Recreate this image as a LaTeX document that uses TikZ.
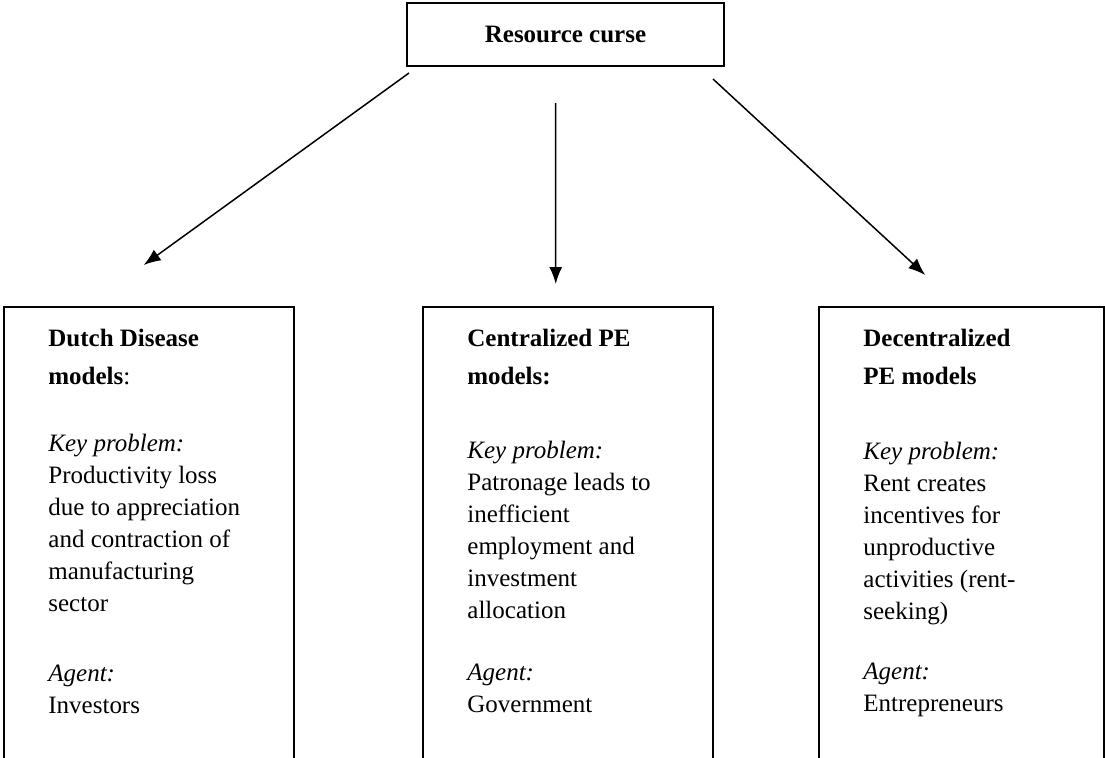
\documentclass[tikz,border=0pt]{standalone}
\usepackage{fontspec}
\setmainfont{Liberation Serif}
\usetikzlibrary{positioning, calc, arrows.meta}

\begin{document}
\begin{tikzpicture}[x=0.5pt, y=-0.5pt,
    font=\fontsize{12.5}{16}\selectfont,
    modelbox/.style={draw, line width=0.75pt, anchor=north west, minimum width=145pt, minimum height=250pt, inner sep=0pt},
    modeltext/.style={anchor=north west, align=left, inner sep=0pt},
    link/.style={line width=0.75pt, -{Latex[length=8.5pt,width=6.5pt]}}]
    \useasboundingbox (0,0) rectangle (1105,757);
    \clip (0,0) rectangle (1105,757);
    \node[draw, line width=1pt, minimum width=158.5pt, minimum height=31.5pt, inner sep=0pt] (curse) at (565.5,34.5) {\textbf{Resource curse}\hspace{6pt}};
    % three model families, boxes run off the bottom
    \node[modelbox] (dutch) at (3,306) {};
    \node[modelbox] (central) at (422,306) {};
    \node[modelbox, minimum width=142.5pt] (decentral) at (818,306) {};
    \node[modeltext] (dutchtext) at ($(dutch.north west)+(45,23)$) {\textbf{Dutch Disease}\\[3pt]
        \textbf{models}:\\[17.5pt]
        \textit{Key problem:}\\
        Productivity loss\\
        due to appreciation\\
        and contraction of\\
        manufacturing\\
        sector\\[19pt]
        \textit{Agent:}\\
        Investors};
    \node[modeltext] (centraltext) at ($(central.north west)+(45,23)$) {\textbf{Centralized PE}\\[3pt]
        \textbf{models:}\\[21pt]
        \textit{Key problem:}\\
        Patronage leads to\\
        inefficient\\
        employment and\\
        investment\\
        allocation\\[15pt]
        \textit{Agent:}\\
        Government};
    \node[modeltext] (decentraltext) at ($(decentral.north west)+(45,23)$) {\textbf{Decentralized}\\[3pt]
        \textbf{PE models}\\[21.5pt]
        \textit{Key problem:}\\
        Rent creates\\
        incentives for\\
        unproductive\\
        activities (rent-\\
        seeking)\\[14pt]
        \textit{Agent:}\\
        Entrepreneurs};
    % arrows
    \draw[link] ($(curse.south west)+(3,6)$) -- ($(dutch.north)+(-5,-41)$);
    \draw[link] ($(curse.south)+(-10,36)$) -- ($(central.north)+(-12,-22)$);
    \draw[link] ($(curse.south east)+(-12,12)$) -- ($(decentral.north)+(-36,-31)$);
\end{tikzpicture}
\end{document}
